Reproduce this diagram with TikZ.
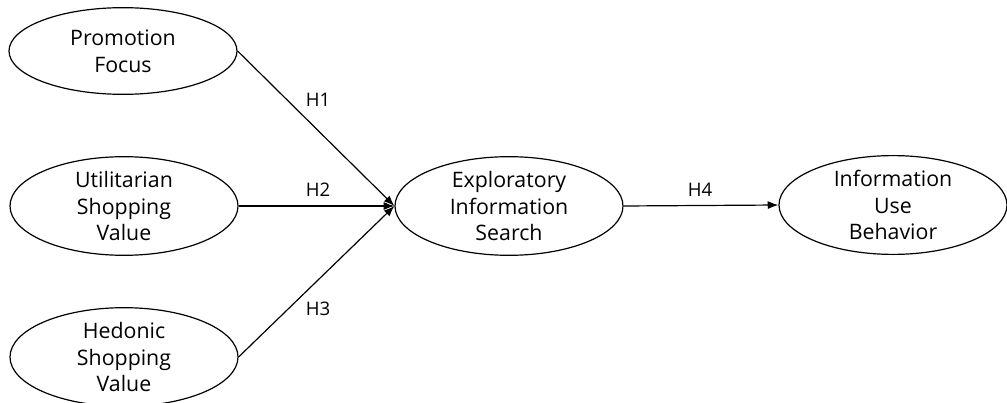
\documentclass[tikz,border=0pt]{standalone}
\usepackage{fontspec}
\setmainfont{Open Sans}
\usetikzlibrary{shapes.geometric,arrows.meta}
\begin{document}
\begin{tikzpicture}[x=0.75pt,y=-0.75pt,
  construct/.style={draw,ellipse,line width=0.9pt,minimum width=171pt,minimum height=65pt,inner sep=0pt,align=center,font=\fontsize{16}{20}\selectfont},
  path/.style={line width=0.9pt,-{Latex[length=8pt,width=6pt]}},
  hlabel/.style={font=\fontsize{14}{16}\selectfont}]
\useasboundingbox (0,0) rectangle (1007,403);
\node[construct] (pf) at (123,51) {Promotion\\Focus};
\node[construct] (usv) at (124,206) {Utilitarian\\Shopping\\Value};
\node[construct] (hsv) at (124,357) {Hedonic\\Shopping\\Value};
\node[construct] (eis) at (509,206) {Exploratory\\Information\\Search};
\node[construct] (iub) at (893,205) {Information\\Use\\Behavior};
\coordinate (tip) at (eis.west);
\draw[path] (pf.east) -- (tip);
\draw[path] (usv.east) -- (tip);
\draw[path] (hsv.east) -- (tip);
\draw[path] (eis.east) -- (iub.west);
\node[hlabel] (h1) at (318,100) {H1};
\node[hlabel] (h2) at (318,190) {H2};
\node[hlabel] (h3) at (318,309) {H3};
\node[hlabel] (h4) at (700,190) {H4};
\end{tikzpicture}
\end{document}
